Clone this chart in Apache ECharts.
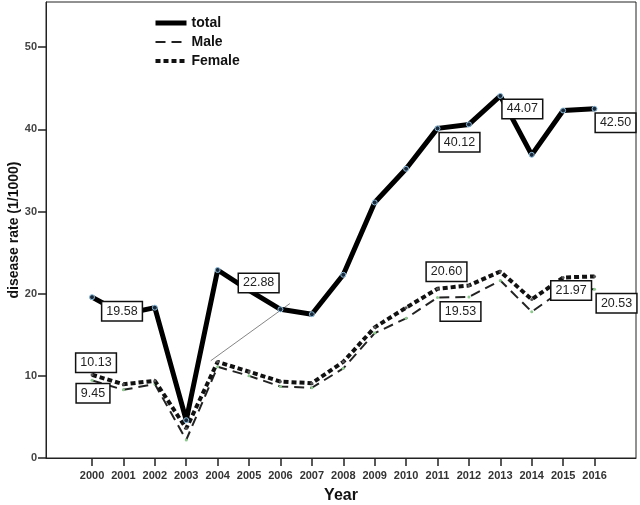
<!DOCTYPE html>
<html>
<head>
<meta charset="utf-8">
<script src="https://cdn.jsdelivr.net/npm/echarts@6/dist/echarts.min.js"></script>
<style>
  html, body { margin: 0; padding: 0; background: #fff; }
  #chart { width: 640px; height: 505px; }
</style>
</head>
<body>
<div id="chart"></div>
<script>
const years = ['2000', '2001', '2002', '2003', '2004', '2005', '2006', '2007', '2008',
  '2009', '2010', '2011', '2012', '2013', '2014', '2015', '2016'];
const total = [19.58, 17.5, 18.3, 4.6, 22.88, 20.4, 18.1, 17.5, 22.3, 31.1, 35.2, 40.12, 40.6, 44.07, 36.9, 42.3, 42.50];
const male = [9.45, 8.3, 9.0, 2.2, 11.1, 10.0, 8.7, 8.55, 10.9, 15.2, 17.0, 19.53, 19.6, 21.6, 17.8, 20.5, 20.53];
const female = [10.13, 8.97, 9.4, 3.6, 11.7, 10.5, 9.3, 9.1, 11.7, 15.9, 18.3, 20.60, 21.0, 22.7, 19.3, 21.97, 22.1];
// stray thin line in the original figure (year index, rate)
const strayLine = [[3.78, 11.84], [6.3, 18.8]];
const yTicks = [0, 10, 20, 30, 40, 50];

// which points carry a value box, and where the box sits relative to the point
const totalLabels = { 0: [30, 14], 4: [41, 13], 11: [22, 14], 13: [22, 13], 16: [21, 14] };
const maleLabels = { 0: [1, 13], 11: [23, 14], 16: [22, 14] };
const femaleLabels = { 0: [4, -12], 11: [9, -17], 15: [8, 13] };

const font = 'Liberation Sans, Arial, sans-serif';

const boxLabel = {
  show: true,
  position: 'inside',
  backgroundColor: '#fff',
  borderColor: '#111',
  borderWidth: 1.5,
  padding: [3, 4, 2, 4],
  fontSize: 12.5,
  fontFamily: font,
  color: '#222',
  formatter: p => p.value[1].toFixed(2)
};

function buildData(values, labels) {
  return values.map((v, i) => {
    const item = { value: [i, v] };
    if (labels[i]) {
      item.label = Object.assign({}, boxLabel, { offset: labels[i] });
    }
    return item;
  });
}

const chart = echarts.init(document.getElementById('chart'));

const option = {
  animation: false,
  backgroundColor: '#fff',
  grid: {
    left: 46, top: 2, right: 4, bottom: 47,
    containLabel: false,
    outerBoundsMode: 'none',
    show: true, borderColor: '#222', borderWidth: 1, backgroundColor: 'transparent'
  },
  legend: {
    orient: 'vertical',
    left: 153,
    top: 16,
    padding: 0,
    itemWidth: 31,
    itemHeight: 14,
    itemGap: 5,
    itemStyle: { opacity: 0 },
    textStyle: { fontFamily: font, fontWeight: 'bold', fontSize: 14, color: '#111' },
    data: [
      { name: 'total', lineStyle: { width: 5, color: '#000' } },
      { name: 'Male', lineStyle: { width: 2, color: '#222', type: [10, 6] } },
      { name: 'Female', lineStyle: { width: 4, color: '#111', type: [5, 3] } }
    ]
  },
  xAxis: {
    type: 'value',
    min: -1.465,
    max: 17.32,
    name: 'Year',
    nameLocation: 'middle',
    nameGap: 30,
    nameTextStyle: { fontFamily: font, fontWeight: 'bold', fontSize: 16, color: '#111' },
    axisLine: { onZero: false, lineStyle: { color: '#222', width: 1 } },
    axisTick: { show: true, length: 8, lineStyle: { color: '#222', width: 1.5 }, customValues: years.map((y, i) => i) },
    axisLabel: {
      customValues: years.map((y, i) => i),
      formatter: v => years[v],
      fontFamily: font, fontWeight: 'bold', fontSize: 11, color: '#333', margin: 12
    },
    splitLine: { show: false }
  },
  yAxis: {
    type: 'value',
    min: 0,
    max: 55.5,
    name: 'disease rate (1/1000)',
    nameLocation: 'middle',
    nameGap: 25,
    nameMoveOverlap: false,
    nameTextStyle: { fontFamily: font, fontWeight: 'bold', fontSize: 14, color: '#111' },
    axisLine: { show: true, onZero: false, lineStyle: { color: '#222', width: 1 } },
    axisTick: { show: true, length: 8, lineStyle: { color: '#222', width: 1.5 }, customValues: yTicks },
    axisLabel: {
      customValues: yTicks,
      fontFamily: font, fontWeight: 'bold', fontSize: 11, color: '#444', margin: 9
    },
    splitLine: { show: false }
  },
  series: [
    {
      name: 'stray',
      type: 'line',
      data: strayLine,
      symbol: 'none',
      silent: true,
      lineStyle: { color: '#666', width: 0.8 },
      z: 1
    },
    {
      name: 'Male',
      type: 'line',
      data: buildData(male, maleLabels),
      symbol: 'circle',
      symbolSize: 3,
      itemStyle: { color: '#8cc98c' },
      lineStyle: { color: '#222', width: 2, type: [10, 6] },
      z: 2
    },
    {
      name: 'Female',
      type: 'line',
      data: buildData(female, femaleLabels),
      symbol: 'circle',
      symbolSize: 3,
      itemStyle: { color: '#555' },
      lineStyle: { color: '#111', width: 4, type: [5, 3] },
      z: 3
    },
    {
      name: 'total',
      type: 'line',
      data: buildData(total, totalLabels),
      symbol: 'circle',
      symbolSize: 5,
      itemStyle: { color: '#1a2a3a', borderColor: '#8fbfe0', borderWidth: 1 },
      lineStyle: { color: '#000', width: 5 },
      z: 4
    }
  ]
};

chart.setOption(option);
</script>
</body>
</html>
